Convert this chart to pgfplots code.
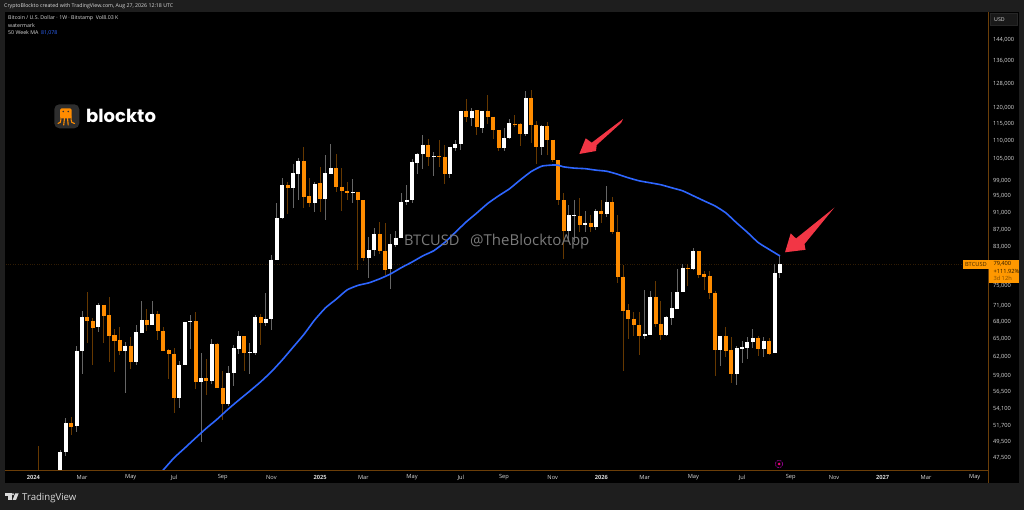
\documentclass[border=0pt]{standalone}
\usepackage{fontspec}
\setmainfont{Open Sans}
\newfontfamily\pop{Poppins}
\usepackage{pgfplots}
\usepackage{pgfplotstable}
\pgfplotsset{compat=1.18}
\definecolor{frame}{HTML}{1E1E1E}
\definecolor{spine}{HTML}{6B3E08}
\definecolor{candO}{HTML}{FF8C00}
\definecolor{wickO}{HTML}{663800}
\definecolor{wickW}{HTML}{666666}
\definecolor{maB}{HTML}{2E66FF}
\definecolor{arrowR}{HTML}{F23645}
\definecolor{tagO}{HTML}{FF9800}
\definecolor{lab}{HTML}{DADADA}
\pgfplotstableread{
i open high low close
0 42700 48455 42400 48200
1 48200 52800 47700 52070
3 51650 63860 50880 63010
4 62960 70150 59240 68900
7 67100 71640 66270 71200
12 62960 64550 56430 63920
14 61270 67530 60720 66210
15 66040 71890 66040 68420
17 67530 71890 67530 69520
22 55680 61320 54230 60720
23 60720 68120 60720 68120
24 68000 69330 63350 68240
26 57990 62690 49550 58670
28 58250 65010 57780 64150
31 54760 60550 54520 59470
32 59420 64030 57430 63520
33 63400 66450 62520 65520
35 62630 64370 59260 62800
36 62690 69330 62410 68900
38 67820 73560 67340 68660
39 68600 81300 66620 80290
40 80300 93340 80300 89690
41 89690 99640 89380 97820
43 97130 103490 92040 101070
44 100890 105000 94160 104240
47 93420 98760 91200 98160
49 94320 106110 89140 101070
50 100890 109240 100890 102420
54 95930 99370 93340 96100
57 80590 85210 76560 82460
58 82390 87260 81090 85960
61 78270 86040 74370 83630
62 83560 86570 83110 85140
63 85140 95760 85140 93670
64 93670 97820 92850 94160
65 94080 104800 93260 104050
66 103860 106600 100710 106300
67 106300 111790 102060 108950
69 105450 106890 100350 105640
72 100800 108170 99640 108170
73 108080 110320 107240 109050
74 109050 119030 107420 119030
76 117050 120100 114490 119240
78 113980 119130 112480 119130
82 107990 113770 107240 110910
83 110910 116540 110710 115310
86 111990 125630 111600 123310
89 108360 114800 106020 114390
94 86640 92850 84240 90320
95 90240 94080 84090 90400
97 87960 91290 86490 88590
99 87650 91780 86870 91450
101 90710 97730 90000 93590
108 65590 74040 65070 65940
109 65820 73910 65760 72720
112 65760 69220 65650 68910
113 68850 73780 67530 70650
114 70520 78330 70460 73780
115 73710 79440 73710 78620
117 78330 82820 78140 82100
122 63190 65590 60560 65590
125 59300 63860 57640 63520
126 63360 64660 61100 63690
127 63520 65420 61640 64600
128 64540 66860 63520 65250
130 63300 65420 62090 64720
132 62640 79370 62640 77590
133 77520 81070 76540 79400
}\upc
\pgfplotstableread{
i open high low close
-4 44000 48970 42500 43500
2 52070 52940 50430 51560
5 68900 73640 64430 68180
6 68300 68780 60720 66990
8 71200 71200 64430 69150
9 69270 72660 61270 65580
10 65690 66810 59610 64780
11 64890 67100 62300 62960
13 63920 65350 60080 61270
16 68360 70520 66450 67530
18 69520 70020 64840 66450
19 66510 67100 63010 63010
20 63120 63400 58460 62520
21 62580 63500 53510 55680
25 68180 69900 57030 57990
27 58620 61700 56080 58250
29 64150 64430 57180 57180
30 57180 59720 52480 54760
34 65520 65580 59820 62690
37 68910 69440 64020 67820
42 97820 98760 90710 97130
45 104330 108170 92020 94900
46 94980 99730 92350 93420
48 98330 102600 91200 94320
51 102330 106300 96180 97470
52 97470 102420 91450 96350
53 96350 98670 93990 95930
55 96100 96100 78200 94160
56 94080 94080 80010 80590
59 85960 88670 81450 82170
60 82240 88440 77110 78140
68 108950 110710 102950 105550
70 105640 110320 102780 105360
71 105450 108850 98240 100800
75 119030 122880 115820 117150
77 119350 119350 111890 114080
79 119130 124300 115020 117360
80 117360 117360 110710 113260
81 113260 113260 107240 107990
84 115210 117870 114180 115000
85 115210 115410 108560 112080
87 123310 126080 109540 114900
88 114900 115920 103580 108360
90 114390 115820 105930 110320
91 110420 110420 104050 104610
92 104520 104520 92850 93990
93 93990 95930 80450 86640
96 90240 94650 86340 87960
98 88590 90320 86490 87650
100 91450 94080 88440 90710
102 93500 94900 85960 86340
103 86420 90400 75420 76690
104 76760 79170 59830 70030
105 70210 71340 65010 68610
106 68670 69890 65480 67470
107 67530 69890 62420 65590
110 72720 75940 67230 67710
111 67770 71970 64900 65760
116 78620 79370 74820 78330
118 82100 82240 76540 77170
119 77310 78000 74100 76690
120 76900 77930 72340 73400
121 73530 73910 59030 63190
123 65590 67170 62090 63080
124 63190 65420 57950 59300
129 65250 65540 62140 63300
131 64720 65190 62360 62590
}\downc
\pgfplotstableread{
i ma
18 45400
19 45950
21 47450
23 48715
25 50030
27 51350
29 52600
31 54000
33 55330
35 56650
37 58050
39 59640
41 61530
43 63640
45 65830
47 68420
49 70660
51 72310
53 74100
55 75000
57 75500
59 76300
61 77300
63 78600
65 79800
67 81100
69 82200
71 84000
73 86320
75 88730
77 90900
79 93200
81 95100
83 96880
85 99190
87 101400
89 102900
91 103200
92 103150
93 102700
95 102350
97 102200
99 101800
101 101500
103 100700
105 99750
107 98950
109 98450
111 97930
113 97150
115 96380
117 95100
119 93820
121 92580
123 90900
125 88500
127 86300
129 84000
131 82500
133 81078
}\matab
\begin{document}
\begin{tikzpicture}[x=1pt,y=1pt]
\fill[frame] (0,0) rectangle (1024,510);
\fill[black] (5,27) rectangle (1019,498);
\begin{axis}[
  at={(5pt,40pt)}, anchor=south west, scale only axis,
  width=983.7pt, height=458pt,
  ymode=log, xmin=-10.24, xmax=171.59, ymin=45956, ymax=154900,
  axis x line*=bottom, axis y line*=right,
  axis line style={spine,line width=0.8pt,-},
  major tick length=0pt, minor tick length=0pt,
  xtick={-5,4,13,21,30,39,48,56,65,74,82,91,100,108,117,126,135,143,152,160,169},
  xticklabels={\textbf{2024},Mar,May,Jul,Sep,Nov,\textbf{2025},Mar,May,Jul,Sep,Nov,\textbf{2026},Mar,May,Jul,Sep,Nov,\textbf{2027},Mar,May},
  ytick={144000,136000,128000,120000,115000,110000,105000,99000,95000,91000,87000,83000,75000,71000,68000,65000,62000,59000,56500,54100,51700,49500,47500},
  yticklabels={{144,000},{136,000},{128,000},{120,000},{115,000},{110,000},{105,000},{99,000},{95,000},{91,000},{87,000},{83,000},{75,000},{71,000},{68,000},{65,000},{62,000},{59,000},{56,500},{54,100},{51,700},{49,500},{47,500}},
  log origin=infty,
  ticklabel style={font=\fontsize{5.7}{6}\selectfont,text=lab},
  xticklabel style={inner sep=0pt,anchor=center,yshift=-7.5pt},
  yticklabel style={anchor=west,inner sep=0pt,xshift=4.3pt},
  clip=true,
]
\addplot[spine!45!black,dotted,line width=0.4pt,forget plot] coordinates {(-11,79400) (172,79400)};
\addplot[draw=none,no markers,forget plot,error bars/.cd,y dir=both,y explicit,error mark=none,
  error bar style={wickO,line width=1pt}]
  table[x=i,y=close,y error plus expr=\thisrow{high}-\thisrow{close},y error minus expr=\thisrow{close}-\thisrow{low}] {\downc};
\addplot[draw=none,no markers,forget plot,error bars/.cd,y dir=both,y explicit,error mark=none,
  error bar style={wickW,line width=1pt}]
  table[x=i,y=close,y error plus expr=\thisrow{high}-\thisrow{close},y error minus expr=\thisrow{close}-\thisrow{low}] {\upc};
\addplot[draw=none,no markers,forget plot,error bars/.cd,y dir=minus,y explicit,error mark=none,
  error bar style={candO,line width=4pt}]
  table[x=i,y=open,y error minus expr=\thisrow{open}-\thisrow{close}] {\downc};
\addplot[draw=none,no markers,forget plot,error bars/.cd,y dir=minus,y explicit,error mark=none,
  error bar style={white,line width=4pt}]
  table[x=i,y=close,y error minus expr=\thisrow{close}-\thisrow{open}] {\upc};
\addplot[maB,line width=1.6pt,no markers,smooth,tension=0.3] table[x=i,y=ma] {\matab};
\end{axis}
\begin{scope}[x=1pt,y=-1pt,yshift=510pt]
  % spine extension
  \draw[spine,line width=0.8pt] (988.7,470) -- (988.7,483);
  % header
  \node[anchor=west,inner sep=0pt,text=lab,font=\fontsize{5.25}{6}\selectfont] at (4,6) {CryptoBlockto created with TradingView.com, Aug 27, 2026 12:18 UTC};
  \node[anchor=west,inner sep=0pt,text=lab,font=\fontsize{5.25}{6}\selectfont] at (8,18) {Bitcoin / U.S. Dollar · 1W · Bitstamp\ \ Vol8.03 K};
  \node[anchor=west,inner sep=0pt,text=lab,font=\fontsize{5.25}{6}\selectfont] at (8,25.5) {watermark};
  \node[anchor=west,inner sep=0pt,text=lab,font=\fontsize{5.25}{6}\selectfont] at (8,33) {50 Week MA\ \ \textcolor{maB}{81,078}};
  % logo
  \fill[black!82!white,rounded corners=5pt] (54.3,104.3) rectangle (79.3,128.3);
  \fill[candO,rounded corners=1.5pt] (60,108.3) rectangle (71.7,118.5);
  \fill[black!80] (63.2,111.5) circle (0.9);
  \fill[black!80] (68.2,111.5) circle (0.9);
  \draw[candO,line width=1.1pt,line cap=round] (61,117) .. controls (61,122) and (60,124) .. (58,123.5);
  \draw[candO,line width=1.1pt,line cap=round] (64.5,118) -- (63.7,125);
  \draw[candO,line width=1.1pt,line cap=round] (67.5,118) -- (68.2,125);
  \draw[candO,line width=1.1pt,line cap=round] (71,117) .. controls (71,122) and (72,124) .. (74.5,123.5);
  \node[anchor=base west,inner sep=0pt,text=white,font=\pop\bfseries\fontsize{18}{20}\selectfont] at (86,122.5) {blockto};
  % watermark
  \node[anchor=base west,inner sep=0pt,text=white!48!black,font=\fontsize{14.6}{15}\selectfont] at (404,246) {BTCUSD};
  \node[anchor=base west,inner sep=0pt,text=white!48!black,font=\fontsize{15}{15}\selectfont] at (470,246) {@TheBlocktoApp};
  % arrows
  \fill[arrowR] (579.3,154) -- (585.7,138.3) -- (591.7,142.7) -- (623,119) -- (621,123) -- (596.7,145) -- (596,151) -- cycle;
  \fill[arrowR] (785,252.3) -- (790.7,233.3) -- (796,238.5) -- (834.3,207.7) -- (804.5,244) -- (805.5,249.8) -- cycle;
  % price tags
  \fill[tagO] (963,259.7) rectangle (989,268.7);
  \fill[tagO] (989,259.7) rectangle (1019,283.3);
  \node[inner sep=0pt,text=black!75!tagO,font=\fontsize{5.7}{6}\selectfont] at (976,264.3) {BTCUSD};
  \node[anchor=west,inner sep=0pt,text=black!85!tagO,font=\fontsize{5.7}{6}\selectfont] at (993.3,264.2) {79,400};
  \node[anchor=west,inner sep=0pt,text=black!85!tagO,font=\fontsize{5.7}{6}\selectfont] at (993.3,271.5) {+111.92\%};
  \node[anchor=west,inner sep=0pt,text=black!50!tagO,font=\fontsize{5.7}{6}\selectfont] at (993.3,278.5) {3d 12h};
  % USD box
  \draw[white!15!black,fill=black!90!white,line width=0.5pt] (990.7,13.3) rectangle (1017.7,25.3);
  \node[anchor=west,inner sep=0pt,text=lab,font=\fontsize{5.25}{6}\selectfont] at (994,19.5) {USD};
  % small icon
  \draw[violet!80!magenta,line width=0.7pt,dash pattern=on 2pt off 1pt] (779,464) circle (3.8);
  \fill[magenta!70!red] (779,462.5) -- (780.5,464) -- (779,465.5) -- (777.5,464) -- cycle;
  % TradingView footer
  \fill[lab] (5.3,493.3) rectangle (11.5,495.6);
  \fill[lab] (8,495.6) rectangle (11.5,500);
  \fill[lab] (13,494.3) circle (1.1);
  \fill[lab] (15.2,493.3) -- (18.7,493.3) -- (16,500) -- (12.6,500) -- cycle;
  \node[anchor=base west,inner sep=0pt,text=lab,font=\fontsize{9.6}{10}\selectfont] at (22,500.3) {TradingView};
\end{scope}
\end{tikzpicture}
\end{document}
